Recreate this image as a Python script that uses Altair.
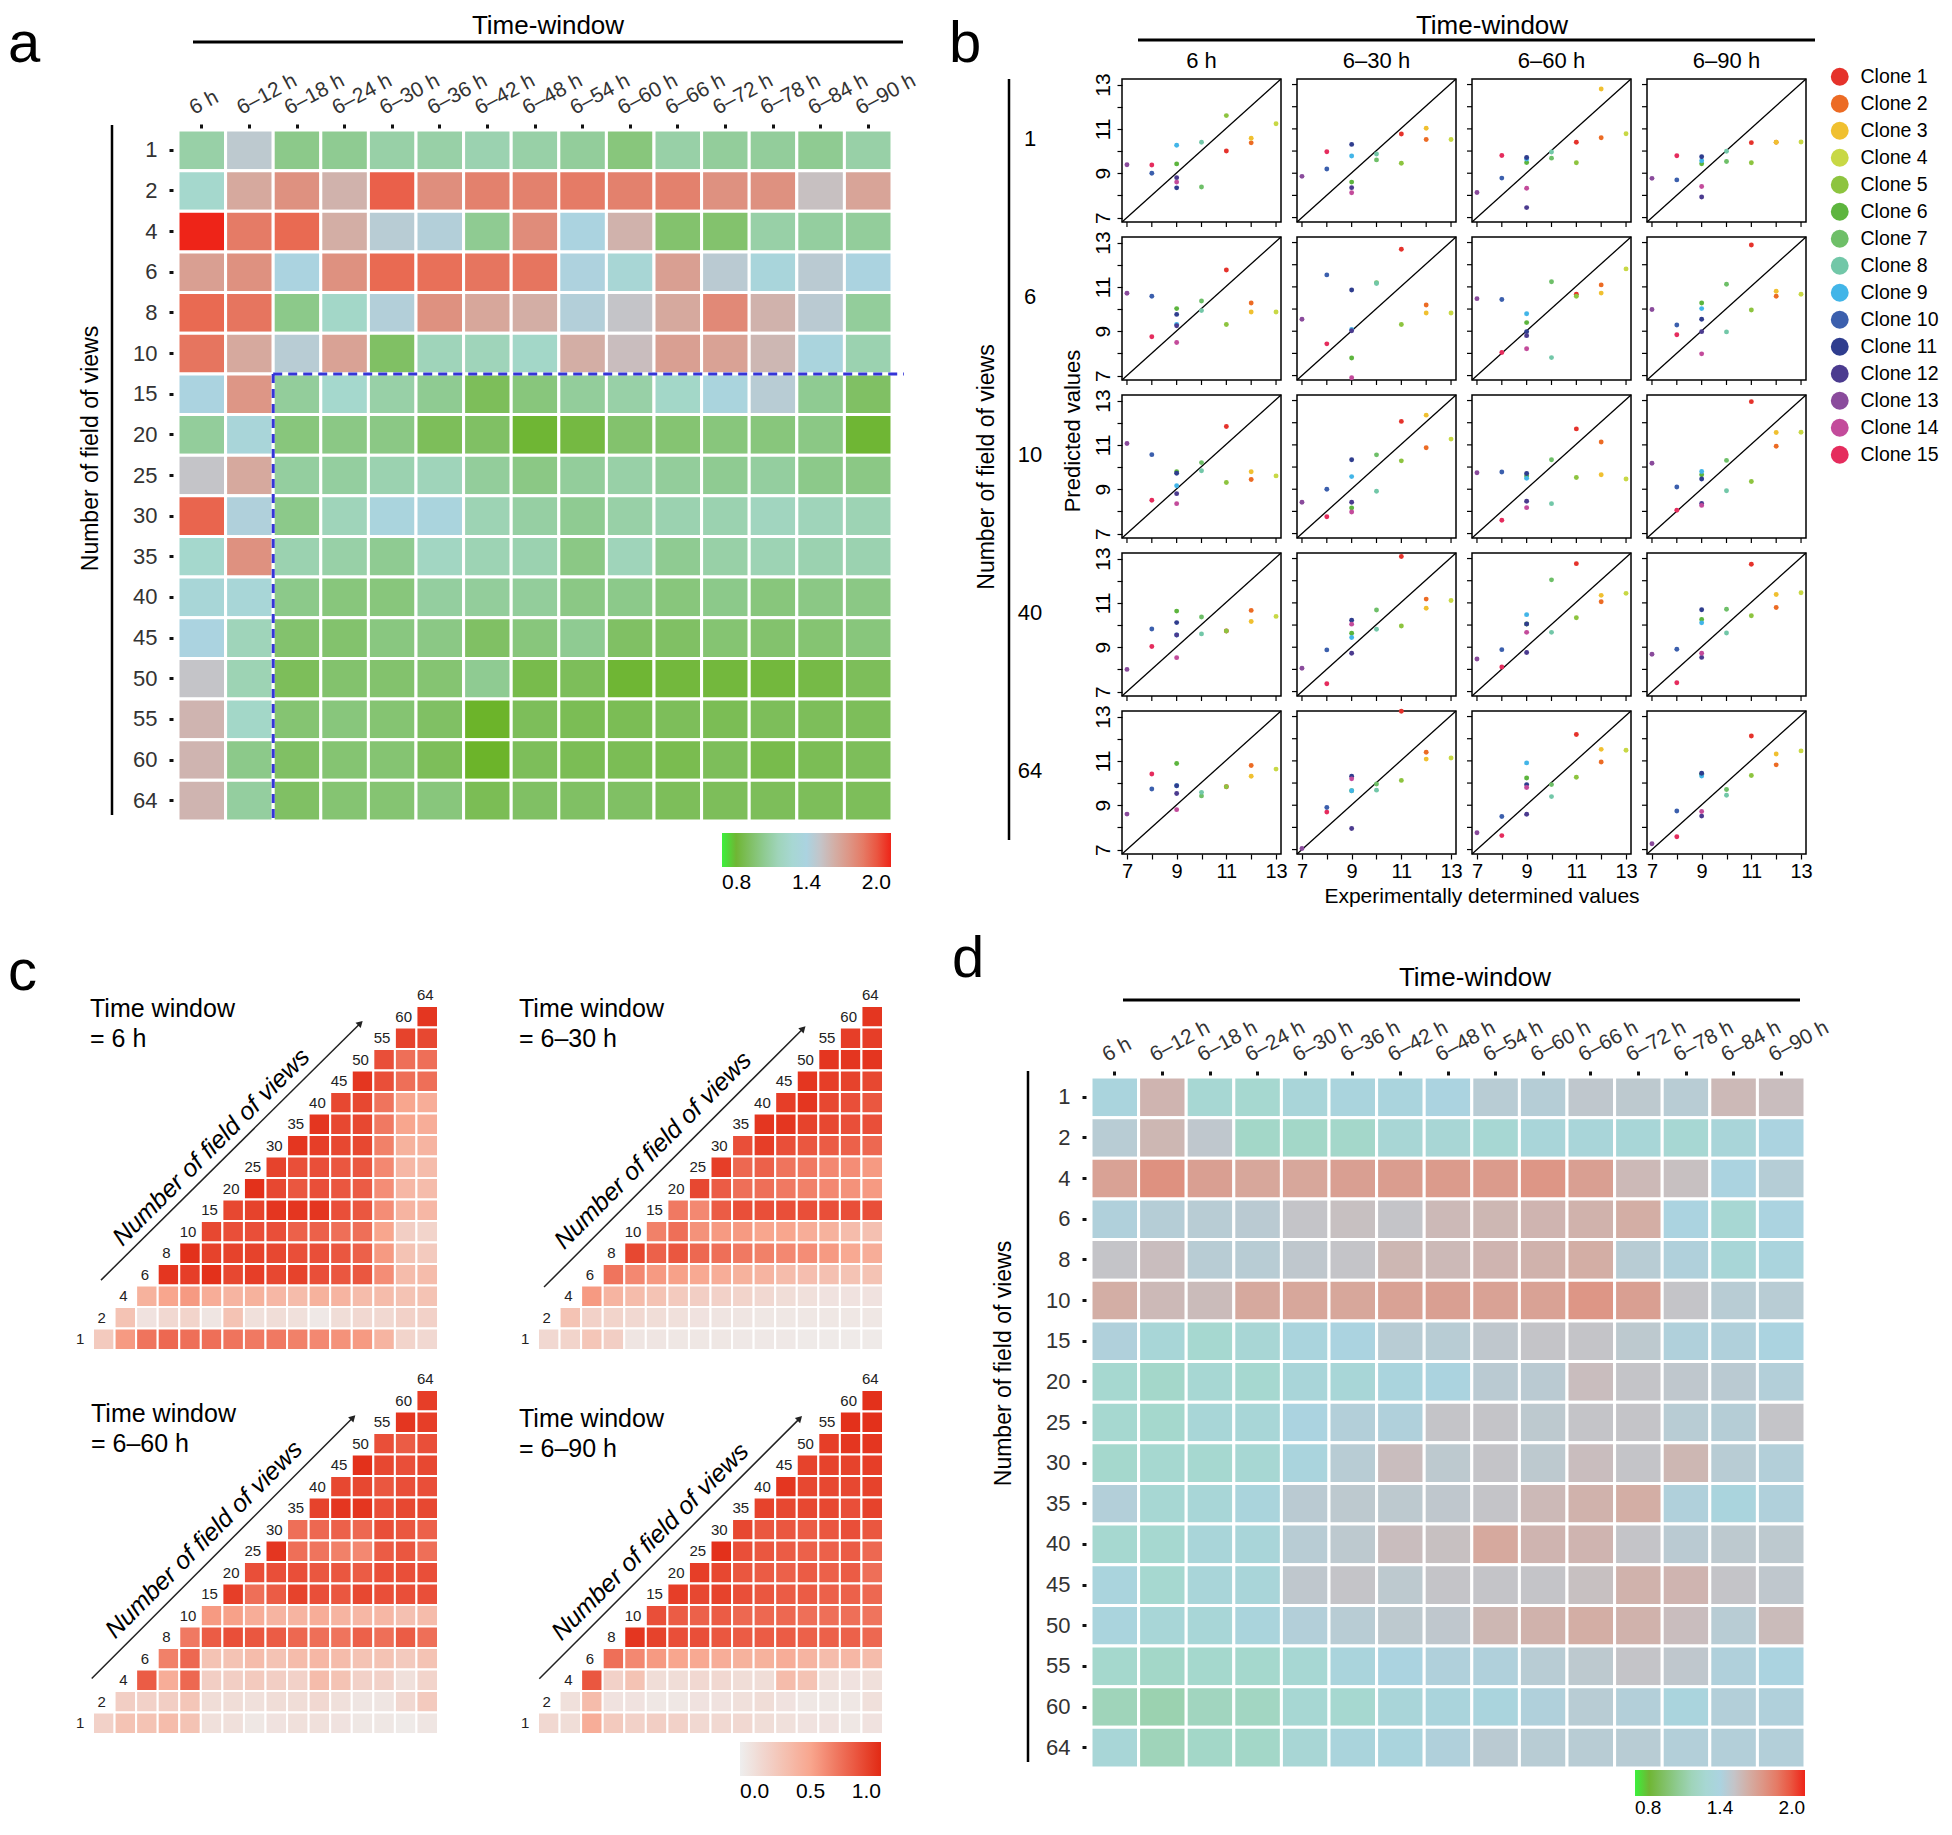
import altair as alt
import pandas as pd

FONT = "Liberation Sans"
INK = "#333333"

# ---------------- shared categories ----------------
FOV = ["1", "2", "4", "6", "8", "10", "15", "20", "25", "30", "35", "40", "45", "50", "55", "60", "64"]
WINDOWS = ["6 h", "6–12 h", "6–18 h", "6–24 h", "6–30 h", "6–36 h", "6–42 h", "6–48 h",
           "6–54 h", "6–60 h", "6–66 h", "6–72 h", "6–78 h", "6–84 h", "6–90 h"]

# ---------------- panel a values (rows = FOV, cols = WINDOWS) ----------------
A_VALUES = [
    [1.15, 1.47, 1.08, 1.10, 1.15, 1.15, 1.17, 1.15, 1.12, 1.05, 1.15, 1.12, 1.12, 1.10, 1.15],
    [1.27, 1.62, 1.72, 1.58, 1.88, 1.73, 1.78, 1.78, 1.80, 1.78, 1.78, 1.72, 1.72, 1.52, 1.64],
    [2.00, 1.80, 1.86, 1.60, 1.45, 1.43, 1.10, 1.74, 1.40, 1.58, 1.02, 1.02, 1.15, 1.13, 1.12],
    [1.66, 1.72, 1.40, 1.72, 1.86, 1.84, 1.82, 1.82, 1.41, 1.32, 1.66, 1.46, 1.36, 1.46, 1.40],
    [1.86, 1.82, 1.08, 1.25, 1.43, 1.72, 1.63, 1.60, 1.43, 1.50, 1.62, 1.75, 1.58, 1.46, 1.12],
    [1.82, 1.62, 1.45, 1.65, 1.00, 1.20, 1.20, 1.25, 1.60, 1.53, 1.66, 1.65, 1.56, 1.38, 1.17],
    [1.40, 1.70, 1.12, 1.27, 1.15, 1.10, 0.98, 1.05, 1.12, 1.15, 1.25, 1.38, 1.45, 1.10, 1.00],
    [1.12, 1.35, 1.05, 1.07, 1.07, 0.98, 1.00, 0.90, 0.93, 1.02, 1.03, 1.05, 1.05, 1.07, 0.90],
    [1.50, 1.62, 1.13, 1.13, 1.17, 1.20, 1.12, 1.07, 1.12, 1.15, 1.12, 1.10, 1.13, 1.08, 1.07],
    [1.87, 1.42, 1.08, 1.20, 1.38, 1.38, 1.18, 1.14, 1.10, 1.15, 1.17, 1.17, 1.22, 1.20, 1.18],
    [1.27, 1.72, 1.17, 1.15, 1.10, 1.23, 1.18, 1.17, 1.07, 1.20, 1.10, 1.15, 1.18, 1.17, 1.17],
    [1.33, 1.33, 1.08, 1.05, 1.05, 1.13, 1.12, 1.12, 1.07, 1.08, 1.05, 1.08, 1.05, 1.07, 1.07],
    [1.40, 1.20, 1.02, 1.02, 1.06, 1.07, 1.00, 1.05, 1.10, 1.00, 1.00, 1.03, 1.02, 1.03, 1.05],
    [1.50, 1.18, 0.98, 1.02, 1.02, 1.03, 1.10, 0.95, 0.98, 0.90, 0.92, 0.92, 0.92, 0.94, 0.98],
    [1.57, 1.25, 1.03, 1.05, 1.03, 1.00, 0.88, 0.98, 0.97, 0.97, 0.98, 0.97, 0.98, 0.98, 0.98],
    [1.57, 1.08, 1.00, 1.03, 1.03, 0.98, 0.88, 0.98, 0.97, 0.97, 0.96, 0.98, 0.95, 0.97, 0.98],
    [1.57, 1.13, 1.00, 1.03, 1.03, 1.05, 0.97, 1.00, 1.00, 1.00, 0.98, 0.98, 0.98, 0.98, 0.98],
]

# ---------------- panel d values ----------------
D_VALUES = [
    [1.38, 1.57, 1.30, 1.28, 1.35, 1.38, 1.38, 1.40, 1.45, 1.44, 1.48, 1.47, 1.45, 1.55, 1.53],
    [1.45, 1.56, 1.48, 1.25, 1.25, 1.26, 1.32, 1.32, 1.30, 1.35, 1.35, 1.33, 1.30, 1.35, 1.40],
    [1.65, 1.72, 1.66, 1.63, 1.63, 1.66, 1.67, 1.68, 1.68, 1.70, 1.66, 1.55, 1.52, 1.40, 1.44],
    [1.42, 1.44, 1.45, 1.46, 1.50, 1.52, 1.50, 1.55, 1.56, 1.57, 1.58, 1.60, 1.40, 1.30, 1.40],
    [1.50, 1.53, 1.45, 1.45, 1.48, 1.50, 1.56, 1.55, 1.57, 1.58, 1.60, 1.45, 1.42, 1.33, 1.38],
    [1.60, 1.55, 1.54, 1.62, 1.63, 1.63, 1.65, 1.66, 1.65, 1.65, 1.70, 1.66, 1.50, 1.45, 1.45],
    [1.42, 1.33, 1.28, 1.32, 1.38, 1.40, 1.45, 1.45, 1.48, 1.50, 1.50, 1.47, 1.42, 1.42, 1.40],
    [1.28, 1.26, 1.30, 1.28, 1.35, 1.33, 1.38, 1.39, 1.46, 1.46, 1.53, 1.50, 1.48, 1.46, 1.43],
    [1.28, 1.27, 1.33, 1.33, 1.40, 1.43, 1.42, 1.50, 1.50, 1.47, 1.50, 1.50, 1.45, 1.44, 1.50],
    [1.27, 1.28, 1.28, 1.30, 1.38, 1.45, 1.53, 1.47, 1.50, 1.47, 1.53, 1.50, 1.56, 1.45, 1.43],
    [1.43, 1.30, 1.33, 1.37, 1.46, 1.47, 1.47, 1.48, 1.50, 1.55, 1.58, 1.60, 1.42, 1.38, 1.42],
    [1.28, 1.28, 1.35, 1.35, 1.45, 1.47, 1.53, 1.52, 1.62, 1.57, 1.57, 1.50, 1.46, 1.47, 1.47],
    [1.38, 1.28, 1.35, 1.35, 1.48, 1.50, 1.47, 1.50, 1.50, 1.50, 1.52, 1.58, 1.57, 1.50, 1.48],
    [1.38, 1.33, 1.33, 1.37, 1.43, 1.45, 1.47, 1.48, 1.56, 1.58, 1.60, 1.58, 1.53, 1.45, 1.54],
    [1.27, 1.25, 1.27, 1.27, 1.30, 1.37, 1.40, 1.42, 1.42, 1.45, 1.47, 1.50, 1.48, 1.42, 1.40],
    [1.20, 1.17, 1.22, 1.23, 1.30, 1.28, 1.35, 1.37, 1.38, 1.42, 1.45, 1.43, 1.38, 1.43, 1.42],
    [1.33, 1.20, 1.25, 1.25, 1.32, 1.37, 1.38, 1.42, 1.46, 1.45, 1.45, 1.45, 1.43, 1.43, 1.43],
]

HEAT_STOPS = [0.80, 0.88, 0.98, 1.08, 1.18, 1.28, 1.40, 1.50, 1.62, 1.74, 1.86, 2.00]
HEAT_COLORS = ["#3cf03c", "#6cb42a", "#7dbe5a", "#8cc98a", "#9dd3b4", "#a6d8d0",
               "#abd3e0", "#c4c4c8", "#d6a99e", "#e08c7a", "#e96a52", "#ee2418"]

# ---------------- panel b ----------------
CLONES = ["Clone 1", "Clone 2", "Clone 3", "Clone 4", "Clone 5", "Clone 6", "Clone 7", "Clone 8",
          "Clone 9", "Clone 10", "Clone 11", "Clone 12", "Clone 13", "Clone 14", "Clone 15"]
CLONE_COLORS = ["#e5322b", "#ec6b24", "#f0c030", "#c8d845", "#8dc43f", "#5db53e", "#6ebf68", "#72c7a8",
                "#42b5e8", "#3b5fad", "#2f3d8e", "#4b3b8f", "#8a4b9c", "#c34b9b", "#e52c5d"]
X_EXP = [11, 12, 12, 13, 11, 9, 10, 10, 9, 8, 9, 9, 7, 9, 8]
B_FOV = ["1", "6", "10", "40", "64"]
B_WINDOWS = ["6 h", "6–30 h", "6–60 h", "6–90 h"]
PRED = {
    "1": [
        [10.00, 10.37, 10.58, 11.23, 11.60, 9.42, 8.38, 10.40, 10.26, 9.00, 8.34, 8.80, 9.38, 8.60, 9.37],
        [10.77, 10.52, 11.03, 10.52, 9.45, 8.60, 9.60, 9.87, 9.78, 9.19, 10.30, 8.35, 8.86, 8.12, 9.97],
        [10.40, 10.60, 12.80, 10.78, 9.47, 9.48, 9.68, 9.96, 9.64, 8.78, 9.71, 7.45, 8.13, 8.32, 9.80],
        [10.38, 10.40, 10.40, 10.41, 9.47, 9.43, 9.53, 9.99, 9.56, 8.70, 9.74, 7.93, 8.77, 8.40, 9.79],
    ],
    "6": [
        [11.76, 10.27, 9.87, 9.87, 9.30, 10.02, 10.36, 9.93, 9.31, 10.58, 9.76, 9.25, 10.71, 8.49, 8.75],
        [12.70, 10.18, 9.82, 9.82, 9.30, 7.79, 11.19, 11.15, 9.08, 11.54, 10.86, 9.02, 9.54, 6.90, 8.43],
        [10.67, 11.09, 10.72, 11.81, 10.58, 9.39, 11.23, 7.81, 9.79, 10.43, 8.98, 8.80, 10.47, 8.21, 8.04],
        [12.89, 10.58, 10.80, 10.67, 9.96, 10.27, 11.12, 8.97, 10.02, 9.28, 9.54, 8.98, 9.98, 7.98, 8.84],
    ],
    "10": [
        [11.83, 9.44, 9.79, 9.60, 9.30, 9.79, 10.20, 9.83, 9.16, 10.56, 9.72, 8.80, 11.06, 8.35, 8.50],
        [12.06, 10.87, 12.34, 11.26, 10.28, 8.16, 10.55, 8.91, 9.57, 9.00, 10.33, 8.41, 8.41, 7.97, 7.76],
        [11.72, 11.13, 9.65, 9.46, 9.53, 9.60, 10.33, 8.35, 9.49, 9.78, 9.71, 8.46, 9.74, 8.17, 7.60],
        [12.95, 10.94, 11.56, 11.57, 9.35, 9.65, 10.30, 8.93, 9.80, 9.10, 9.46, 8.36, 10.17, 8.27, 8.05],
    ],
    "40": [
        [9.73, 10.66, 10.16, 10.39, 9.73, 10.63, 10.36, 9.60, 9.55, 9.82, 10.11, 9.55, 8.00, 8.53, 9.03],
        [13.09, 11.17, 10.76, 11.11, 9.96, 9.63, 10.68, 9.81, 9.44, 8.88, 10.22, 8.73, 8.05, 10.04, 7.35],
        [12.77, 11.05, 11.34, 11.43, 10.33, 10.05, 12.04, 9.67, 10.47, 8.89, 10.05, 8.76, 8.47, 9.67, 8.11],
        [12.74, 10.79, 11.38, 11.46, 10.42, 10.25, 10.71, 9.64, 10.10, 8.91, 10.69, 8.54, 8.68, 8.73, 7.40],
    ],
    "64": [
        [9.83, 10.79, 10.31, 10.63, 9.83, 10.88, 9.42, 9.58, 9.88, 9.73, 9.88, 9.53, 8.60, 8.80, 10.41],
        [13.24, 11.39, 11.08, 11.13, 10.12, 9.65, 9.96, 9.68, 9.65, 8.90, 10.31, 7.95, 7.05, 10.19, 8.69],
        [12.19, 10.95, 11.52, 11.48, 10.26, 10.23, 9.93, 9.39, 10.91, 8.49, 9.93, 8.59, 7.76, 9.80, 7.63],
        [12.12, 10.82, 11.31, 11.45, 10.34, 10.40, 9.71, 9.45, 10.32, 8.74, 10.44, 8.51, 7.26, 8.72, 7.58],
    ],
}

# ---------------- panel c (rows listed from top "60" down to "1") ----------------
C_ROW_ORDER = ["60", "55", "50", "45", "40", "35", "30", "25", "20", "15", "10", "8", "6", "4", "2", "1"]
TRI = {
    "6 h": [
        [0.95],
        [0.90, 0.88],
        [0.85, 0.72, 0.72],
        [0.95, 0.85, 0.72, 0.72],
        [0.88, 0.88, 0.70, 0.50, 0.45],
        [0.95, 0.88, 0.88, 0.68, 0.50, 0.45],
        [0.95, 0.92, 0.88, 0.88, 0.65, 0.42, 0.40],
        [0.90, 0.85, 0.85, 0.82, 0.82, 0.62, 0.38, 0.35],
        [0.97, 0.88, 0.82, 0.85, 0.82, 0.80, 0.60, 0.38, 0.35],
        [0.88, 0.90, 0.95, 0.95, 0.95, 0.85, 0.82, 0.60, 0.40, 0.38],
        [0.88, 0.85, 0.85, 0.85, 0.78, 0.78, 0.72, 0.72, 0.50, 0.22, 0.18],
        [0.97, 0.90, 0.90, 0.90, 0.88, 0.85, 0.85, 0.82, 0.78, 0.55, 0.30, 0.25],
        [0.95, 0.92, 0.97, 0.88, 0.92, 0.88, 0.90, 0.85, 0.82, 0.82, 0.60, 0.35, 0.35],
        [0.42, 0.50, 0.55, 0.45, 0.40, 0.42, 0.38, 0.35, 0.42, 0.40, 0.35, 0.35, 0.30, 0.30],
        [0.30, 0.08, 0.15, 0.18, 0.06, 0.30, 0.10, 0.12, 0.10, 0.04, 0.12, 0.15, 0.15, 0.20, 0.20],
        [0.25, 0.55, 0.70, 0.75, 0.72, 0.72, 0.70, 0.68, 0.68, 0.65, 0.62, 0.58, 0.55, 0.40, 0.18, 0.15],
    ],
    "6–30 h": [
        [0.95],
        [0.92, 0.92],
        [0.95, 0.95, 0.95],
        [0.95, 0.92, 0.90, 0.88],
        [0.92, 0.95, 0.88, 0.85, 0.82],
        [0.95, 0.95, 0.90, 0.88, 0.85, 0.85],
        [0.85, 0.92, 0.85, 0.82, 0.80, 0.78, 0.75],
        [0.92, 0.75, 0.78, 0.70, 0.68, 0.62, 0.60, 0.55],
        [0.88, 0.80, 0.72, 0.72, 0.68, 0.65, 0.62, 0.58, 0.55],
        [0.68, 0.62, 0.80, 0.85, 0.85, 0.85, 0.85, 0.85, 0.85, 0.85],
        [0.65, 0.72, 0.58, 0.55, 0.55, 0.50, 0.50, 0.45, 0.42, 0.35, 0.32],
        [0.88, 0.78, 0.82, 0.75, 0.72, 0.68, 0.65, 0.62, 0.60, 0.55, 0.48, 0.45],
        [0.70, 0.62, 0.55, 0.52, 0.48, 0.45, 0.42, 0.40, 0.35, 0.33, 0.32, 0.30, 0.30],
        [0.55, 0.40, 0.35, 0.30, 0.25, 0.22, 0.20, 0.18, 0.15, 0.12, 0.10, 0.08, 0.08, 0.08],
        [0.30, 0.20, 0.18, 0.15, 0.12, 0.10, 0.08, 0.07, 0.06, 0.05, 0.05, 0.05, 0.05, 0.05, 0.05],
        [0.15, 0.18, 0.28, 0.22, 0.06, 0.06, 0.05, 0.05, 0.05, 0.04, 0.04, 0.04, 0.03, 0.03, 0.03, 0.03],
    ],
    "6–60 h": [
        [0.92],
        [0.95, 0.92],
        [0.85, 0.80, 0.85],
        [0.97, 0.88, 0.85, 0.88],
        [0.88, 0.88, 0.82, 0.85, 0.85],
        [0.90, 0.95, 0.95, 0.85, 0.88, 0.88],
        [0.72, 0.75, 0.78, 0.75, 0.85, 0.82, 0.78],
        [0.95, 0.72, 0.70, 0.65, 0.62, 0.80, 0.82, 0.72],
        [0.85, 0.85, 0.85, 0.82, 0.82, 0.80, 0.85, 0.85, 0.85],
        [0.92, 0.72, 0.80, 0.90, 0.85, 0.82, 0.88, 0.85, 0.85, 0.85],
        [0.55, 0.52, 0.45, 0.40, 0.40, 0.45, 0.40, 0.38, 0.38, 0.32, 0.35],
        [0.68, 0.80, 0.85, 0.82, 0.80, 0.75, 0.72, 0.70, 0.78, 0.72, 0.80, 0.72],
        [0.65, 0.75, 0.30, 0.30, 0.35, 0.30, 0.35, 0.38, 0.35, 0.30, 0.30, 0.25, 0.30],
        [0.80, 0.45, 0.75, 0.22, 0.22, 0.25, 0.22, 0.20, 0.35, 0.30, 0.20, 0.20, 0.10, 0.18],
        [0.22, 0.20, 0.22, 0.28, 0.12, 0.12, 0.10, 0.12, 0.12, 0.15, 0.10, 0.06, 0.06, 0.15, 0.25],
        [0.20, 0.30, 0.30, 0.35, 0.30, 0.10, 0.10, 0.05, 0.08, 0.10, 0.10, 0.08, 0.05, 0.05, 0.03, 0.06],
    ],
    "6–90 h": [
        [0.97],
        [0.97, 0.97],
        [0.92, 0.95, 0.95],
        [0.90, 0.90, 0.90, 0.92],
        [0.95, 0.88, 0.88, 0.88, 0.90],
        [0.90, 0.88, 0.88, 0.88, 0.85, 0.90],
        [0.88, 0.82, 0.82, 0.80, 0.82, 0.85, 0.82],
        [0.97, 0.85, 0.82, 0.80, 0.78, 0.78, 0.80, 0.75],
        [0.92, 0.88, 0.82, 0.80, 0.78, 0.80, 0.78, 0.80, 0.72],
        [0.92, 0.88, 0.90, 0.85, 0.82, 0.80, 0.80, 0.78, 0.78, 0.75],
        [0.85, 0.80, 0.78, 0.80, 0.75, 0.75, 0.75, 0.72, 0.72, 0.72, 0.70],
        [0.95, 0.90, 0.85, 0.85, 0.82, 0.80, 0.80, 0.80, 0.78, 0.78, 0.78, 0.75],
        [0.72, 0.62, 0.55, 0.50, 0.48, 0.45, 0.42, 0.42, 0.45, 0.40, 0.35, 0.38, 0.35],
        [0.82, 0.20, 0.30, 0.12, 0.12, 0.15, 0.15, 0.12, 0.12, 0.35, 0.30, 0.10, 0.08, 0.10],
        [0.10, 0.35, 0.08, 0.08, 0.05, 0.05, 0.08, 0.08, 0.10, 0.12, 0.08, 0.05, 0.05, 0.05, 0.10],
        [0.15, 0.12, 0.45, 0.25, 0.20, 0.22, 0.20, 0.15, 0.15, 0.15, 0.12, 0.10, 0.08, 0.08, 0.05, 0.08],
    ],
}
C_STOPS = [0.0, 0.5, 1.0]
C_COLORS = ["#eeeeee", "#f8a68e", "#e22a14"]

DEC = pd.DataFrame({"k": [0]})


# ---------------- helpers (decorations in pixel space) ----------------
def txt(s, x, y, size, align="center", baseline="middle", angle=0, style="normal", color="black"):
    props = dict(text=s, fontSize=size, font=FONT, align=align, baseline=baseline,
                 color=color, fontStyle=style)
    if angle:
        props["angle"] = angle
    return alt.Chart(DEC).mark_text(**props).encode(x=alt.value(x), y=alt.value(y))


def hline(x, x2, y, w=3.0):
    return alt.Chart(DEC).mark_rule(color="black", strokeWidth=w).encode(
        x=alt.value(x), x2=alt.value(x2), y=alt.value(y))


def vline(x, y, y2, w=2.5):
    return alt.Chart(DEC).mark_rule(color="black", strokeWidth=w).encode(
        x=alt.value(x), y=alt.value(y), y2=alt.value(y2))


def anchor(x1, y1, x2, y2):
    # invisible frame fixing the bounding box of a panel for the concat layout
    return alt.Chart(DEC).mark_rule(opacity=0, strokeWidth=0.01, color="white").encode(
        x=alt.value(x1), y=alt.value(y1), x2=alt.value(x2), y2=alt.value(y2))


# ---------------- heatmap panels (a, d) ----------------
def heat_panel(values, xoff, yoff, letter, letter_xy, tw_xy, tw_line, vl, title_y, legend_kw,
               dashed, box):
    recs = [{"fov": f, "win": w, "v": v}
            for f, row in zip(FOV, values) for w, v in zip(WINDOWS, row)]
    df = pd.DataFrame(recs)
    W, H = 714, 691
    xscale = alt.Scale(range=[xoff, xoff + W])
    yscale = alt.Scale(range=[yoff, yoff + H])
    xaxis = alt.Axis(orient="top", labelAngle=332, labelAlign="left", labelBaseline="bottom",
                     labelFontSize=21, labelColor=INK, labelPadding=6, labelOffset=-6,
                     labelOverlap=False, tickSize=4, tickWidth=3, tickColor="#111111",
                     domain=False, offset=-(yoff - 2), title=None)
    yaxis = alt.Axis(title="Number of field of views", titleFontSize=23, titleFontWeight="normal",
                     titleColor="black", titleX=-83, titleY=title_y, titleBaseline="middle",
                     titleAlign="center", titleAngle=270,
                     labelFontSize=22, labelColor=INK, labelPadding=12, labelOverlap=False,
                     tickSize=4, tickWidth=3, tickColor="#111111", domain=False, offset=-(xoff - 5))
    legend = alt.Legend(orient="none", direction="horizontal", title=None,
                        values=[0.8, 1.4, 2.0], format=".1f", labelAlign="center",
                        labelOverlap=False, gradientStrokeWidth=0, padding=0,
                        labelColor="black", **legend_kw)
    xenc = alt.X("win:N", sort=WINDOWS, scale=xscale, axis=xaxis)
    yenc = alt.Y("fov:N", sort=FOV, scale=yscale, axis=yaxis)
    rect = alt.Chart(df).mark_rect(stroke="white", strokeWidth=3).encode(
        x=xenc, y=yenc,
        fill=alt.Fill("v:Q", scale=alt.Scale(domain=HEAT_STOPS, range=HEAT_COLORS, interpolate="rgb"),
                      legend=legend),
    )
    layers = [rect]
    if dashed:
        dd = pd.DataFrame({"win": ["6–18 h"], "fov": ["15"]})
        style = dict(color="#3535d8", strokeWidth=3, strokeDash=[9, 6])
        xb = alt.X("win:N", sort=WINDOWS, scale=xscale, axis=xaxis, bandPosition=0)
        yb = alt.Y("fov:N", sort=FOV, scale=yscale, axis=yaxis, bandPosition=0)
        layers.append(alt.Chart(dd).mark_rule(**style).encode(
            x=xb, x2=alt.value(xoff + W + 12), y=yb))
        layers.append(alt.Chart(dd).mark_rule(**style).encode(
            x=xb, y=yb, y2=alt.value(yoff + H + 2)))
    layers.append(txt(letter, letter_xy[0], letter_xy[1], 58, align="left", baseline="alphabetic"))
    layers.append(txt("Time-window", tw_xy[0], tw_xy[1], 26))
    layers.append(hline(tw_line[0], tw_line[1], tw_line[2]))
    layers.append(vline(vl[0], vl[1], vl[2]))
    layers.append(anchor(*box))
    return alt.layer(*layers).properties(width=xoff + W, height=yoff + H)


a_panel = heat_panel(A_VALUES, 85, 51, "a", (-85, -17), (455, -53), (100, 810, -37), (19, 46, 736), 369,
                     dict(legendX=629, legendY=754, gradientLength=169, gradientThickness=34,
                          labelFontSize=21, labelOffset=5), True, (-85, -71, 842, 839))
d_panel = heat_panel(D_VALUES, 0, 71, "d", (-139, -29), (384, -28), (32, 709, -6), (-63, 65, 756), 357,
                     dict(legendX=544, legendY=764, gradientLength=170, gradientThickness=26,
                          labelFontSize=19, labelOffset=3), False, (-156, -88, 842, 820))

# ---------------- scatter grid (b) as one view ----------------
XLO, XHI = 6.8, 13.2     # data extent of one small panel
YLO, YHI = 6.8, 13.25
PXU = 159 / (XHI - XLO)  # pixels per x unit inside a small panel
PYU = 143 / (YHI - YLO)  # pixels per y unit inside a small panel
XO = 175 / PXU           # panel-to-panel shift in x units
YO = 158 / PYU           # panel-to-panel shift in y units
BX = alt.Scale(domain=[XLO, XLO + 684 / PXU], nice=False, zero=False)
BY = alt.Scale(domain=[YLO, YLO + 775 / PYU], nice=False, zero=False)
TICKS = [7, 8, 9, 10, 11, 12, 13]

pts, frames, xt, yt, ttl, rlab = [], [], [], [], [], []
for r, fov in enumerate(B_FOV):
    yo = (4 - r) * YO
    rlab.append({"x": XLO, "y": (YLO + YHI) / 2 + yo, "t": fov})
    for c, win in enumerate(B_WINDOWS):
        xo = c * XO
        for clone, xe, yp in zip(CLONES, X_EXP, PRED[fov][c]):
            pts.append({"clone": clone, "x": xe + xo, "y": yp + yo})
        frames.append({"x": XLO + xo, "x2": XHI + xo, "y": YLO + yo, "y2": YHI + yo})
        if r < 4:
            for t in TICKS:
                xt.append({"x": t + xo, "y": YLO + yo, "y2": YLO + yo - 5 / PYU})
        if c > 0:
            for t in TICKS:
                yt.append({"x": XLO + xo, "x2": XLO + xo - 5 / PXU, "y": t + yo})
        if r == 0:
            ttl.append({"x": 10 + xo, "y": YHI + yo, "t": win})

XEXPR = (f"round(datum.value - {XO:.6f}*floor((datum.value - 6.5)/{XO:.6f})) % 2 == 1 ? "
         f"'' + round(datum.value - {XO:.6f}*floor((datum.value - 6.5)/{XO:.6f})) : ''")
YEXPR = (f"round(datum.value - {YO:.6f}*floor((datum.value - 6.5)/{YO:.6f})) % 2 == 1 ? "
         f"'' + round(datum.value - {YO:.6f}*floor((datum.value - 6.5)/{YO:.6f})) : ''")
bxa = alt.Axis(values=[t + c * XO for c in range(4) for t in TICKS], labelExpr=XEXPR, title=None,
               grid=False, domain=False, tickSize=5, tickColor="black", tickWidth=1.2,
               labelFontSize=20, labelColor="black", labelPadding=2, labelFlush=False,
               labelOverlap=False)
bya = alt.Axis(values=[t + r * YO for r in range(5) for t in TICKS], labelExpr=YEXPR, title=None,
               grid=False, domain=False, tickSize=5, tickColor="black", tickWidth=1.2,
               labelFontSize=21, labelColor="black", labelAngle=270, labelAlign="center",
               labelBaseline="bottom", labelPadding=4, labelFlush=False, labelOverlap=False)

BXE = dict(scale=BX, axis=bxa)
BYE = dict(scale=BY, axis=bya)
fdf = pd.DataFrame(frames)
b_layers = [
    alt.Chart(fdf).mark_rect(fillOpacity=0, stroke="black", strokeWidth=1.5).encode(
        x=alt.X("x:Q", **BXE), x2="x2:Q", y=alt.Y("y:Q", **BYE), y2="y2:Q"),
    alt.Chart(fdf).mark_rule(color="black", strokeWidth=1.3).encode(
        x=alt.X("x:Q", **BXE), x2="x2:Q", y=alt.Y("y:Q", **BYE), y2="y2:Q"),
    alt.Chart(pd.DataFrame(xt)).mark_rule(color="black", strokeWidth=1.2).encode(
        x=alt.X("x:Q", **BXE), y=alt.Y("y:Q", **BYE), y2="y2:Q"),
    alt.Chart(pd.DataFrame(yt)).mark_rule(color="black", strokeWidth=1.2).encode(
        x=alt.X("x:Q", **BXE), x2="x2:Q", y=alt.Y("y:Q", **BYE)),
    alt.Chart(pd.DataFrame(pts)).mark_circle(size=24, opacity=1).encode(
        x=alt.X("x:Q", **BXE),
        y=alt.Y("y:Q", **BYE),
        color=alt.Color("clone:N", sort=CLONES, scale=alt.Scale(domain=CLONES, range=CLONE_COLORS),
                        legend=alt.Legend(orient="none", legendX=708, legendY=-12, title=None,
                                          symbolType="circle", symbolSize=320, labelFontSize=19.5,
                                          labelColor="black", labelOffset=11, rowPadding=6,
                                          padding=0, symbolStrokeWidth=0)),
    ),
    alt.Chart(pd.DataFrame(ttl)).mark_text(fontSize=22, font=FONT, baseline="alphabetic", dy=-11,
                                           color="black").encode(
        x=alt.X("x:Q", **BXE), y=alt.Y("y:Q", **BYE), text="t:N"),
    alt.Chart(pd.DataFrame(rlab)).mark_text(fontSize=22, font=FONT, dx=-92, dy=-12,
                                            color="black").encode(
        x=alt.X("x:Q", **BXE), y=alt.Y("y:Q", **BYE), text="t:N"),
    txt("b", -173, -17, 58, align="left", baseline="alphabetic"),
    txt("Time-window", 370, -53, 26),
    hline(16, 693, -39),
    vline(-113, 0, 761),
    txt("Number of field of views", -135, 388, 23, angle=270),
    txt("Predicted values", -49, 352, 22, angle=270),
    txt("Experimentally determined values", 360, 818, 21),
    anchor(-187, -71, 822, 839),
]
b_panel = alt.layer(*b_layers).properties(width=684, height=775)

# ---------------- triangles (c) as one view ----------------
CPX = 345 / 16
CPY = 344 / 16
C_XOFF = 445 / CPX
C_YOFF = 384 / CPY
CX = alt.Scale(domain=[0, 789 / CPX], nice=False, zero=False)
CY = alt.Scale(domain=[0, 728 / CPY], nice=False, zero=False)
C_POS = {"6 h": (0, C_YOFF), "6–30 h": (C_XOFF, C_YOFF), "6–60 h": (0, 0), "6–90 h": (C_XOFF, 0)}
C_ARROW = {"6 h": (0.37, 3.25, 12.4, 15.2), "6–30 h": (0.28, 2.93, 12.3, 14.95),
           "6–60 h": (-0.06, 2.58, 12.06, 14.72), "6–90 h": (0.06, 2.57, 12.14, 14.68)}
C_NAME = {"6 h": (5.48, 9.44), "6–30 h": (5.33, 9.29), "6–60 h": (5.14, 9.05), "6–90 h": (5.2, 8.95)}
C_TITLE_PX = {"6 h": (-3, 11), "6–30 h": (426, 11), "6–60 h": (-2, 416), "6–90 h": (426, 421)}

cells, labs, arrows, names = [], [], [], []
for win, rows in TRI.items():
    ox, oy = C_POS[win]
    for idx, vals in enumerate(rows):
        i = 15 - idx
        for n, v in enumerate(vals):
            cells.append({"x": ox + i + n, "x2": ox + i + n + 1, "y": oy + i, "y2": oy + i + 1, "v": v})
    for k, lab in enumerate(FOV):
        labs.append({"x": ox + k - 0.5, "y": oy + k + 0.5, "t": lab})
    x0, y0, x1, y1 = C_ARROW[win]
    arrows.append({"x": ox + x0, "y": oy + y0, "x2": ox + x1, "y2": oy + y1})
    names.append({"x": ox + C_NAME[win][0], "y": oy + C_NAME[win][1]})

CNX = dict(scale=CX, axis=None)
CNY = dict(scale=CY, axis=None)
adf = pd.DataFrame(arrows)
c_layers = [
    alt.Chart(pd.DataFrame(cells)).mark_rect(stroke="white", strokeWidth=2).encode(
        x=alt.X("x:Q", **CNX), x2="x2:Q", y=alt.Y("y:Q", **CNY), y2="y2:Q",
        fill=alt.Fill("v:Q", scale=alt.Scale(domain=C_STOPS, range=C_COLORS, interpolate="rgb"),
                      legend=alt.Legend(orient="none", legendX=647, legendY=736, direction="horizontal",
                                        title=None, gradientLength=141, gradientThickness=34,
                                        values=[0, 0.5, 1], format=".1f", labelFontSize=21,
                                        labelAlign="center", labelOffset=5, gradientStrokeWidth=0,
                                        padding=0, labelColor="black", labelOverlap=False)),
    ),
    alt.Chart(pd.DataFrame(labs)).mark_text(fontSize=15, font=FONT, color="#222222", dx=-2).encode(
        x=alt.X("x:Q", **CNX), y=alt.Y("y:Q", **CNY), text="t:N"),
    alt.Chart(adf).mark_rule(color="#222222", strokeWidth=1.5).encode(
        x=alt.X("x:Q", **CNX), y=alt.Y("y:Q", **CNY), x2="x2:Q", y2="y2:Q"),
    alt.Chart(adf).mark_point(shape="triangle-up", filled=True, size=55, angle=45, color="#222222",
                              opacity=1).encode(
        x=alt.X("x2:Q", **CNX), y=alt.Y("y2:Q", **CNY)),
    alt.Chart(pd.DataFrame(names)).mark_text(text="Number of field of views", fontSize=25, font=FONT,
                                             fontStyle="italic", angle=315, align="center",
                                             baseline="middle", color="black").encode(
        x=alt.X("x:Q", **CNX), y=alt.Y("y:Q", **CNY)),
    txt("c", -85, -16, 58, align="left", baseline="alphabetic"),
    anchor(-85, -88, 842, 820),
]
for win, (tx, ty) in C_TITLE_PX.items():
    c_layers.append(txt("Time window", tx, ty, 25, align="left", baseline="alphabetic"))
    c_layers.append(txt("= " + win, tx, ty + 30, 25, align="left", baseline="alphabetic"))
c_panel = alt.layer(*c_layers).properties(width=789, height=728)

# ---------------- assemble ----------------
top_row = alt.hconcat(a_panel, b_panel, spacing=0).resolve_scale(fill="independent", color="independent")
bottom_row = alt.hconcat(c_panel, d_panel, spacing=0).resolve_scale(fill="independent", color="independent")

chart = alt.vconcat(top_row, bottom_row, spacing=0).resolve_scale(
    fill="independent", color="independent"
).properties(padding=0).configure(font=FONT).configure_view(stroke=None)

chart.save("out.html", embed_options={"renderer": "svg", "actions": False})
